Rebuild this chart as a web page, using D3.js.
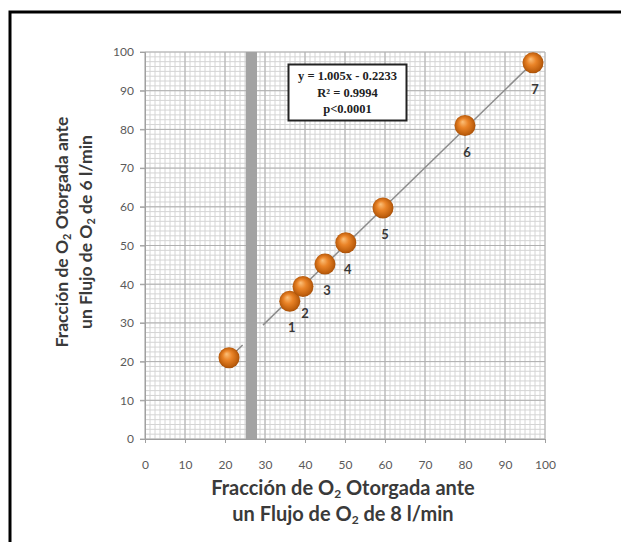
<!DOCTYPE html>
<html>
<head>
<meta charset="utf-8">
<script src="https://cdn.jsdelivr.net/npm/d3@7"></script>
<style>
  body { margin: 0; background: #fff; }
  svg { display: block; }
</style>
</head>
<body>
<script>
// data
var pointsX = [21, 36.2, 39.5, 45, 50.2, 59.5, 80, 97];
var pointsY = [21, 35.6, 39.4, 45.2, 50.7, 59.7, 81, 97.2];
var pointLabels = ["", "1", "2", "3", "4", "5", "6", "7"];
var ticks = [0, 10, 20, 30, 40, 50, 60, 70, 80, 90, 100];
var slope = 1.005, intercept = -0.2233;
var fitSegments = [[21, 24.4], [29.5, 98]];
var axisBreak = [25.2, 28];
var statLines = ["y = 1.005x - 0.2233", "R² = 0.9994", "p<0.0001"];

var W = 621, H = 542;
var svg = d3.select("body").append("svg")
    .attr("width", W)
    .attr("height", H);

var x = d3.scaleLinear().domain([0, 100]).range([145, 545]);
var y = d3.scaleLinear().domain([0, 100]).range([439, 52]);

// frame (top and left edges only are visible)
svg.append("path")
    .attr("d", "M10," + H + "V12H" + W)
    .attr("fill", "none")
    .attr("stroke", "#000")
    .attr("stroke-width", 3);

var defs = svg.append("defs");
var grad = defs.append("radialGradient")
    .attr("id", "ball")
    .attr("cx", "50%").attr("cy", "50%").attr("r", "55%")
    .attr("fx", "38%").attr("fy", "32%");
grad.append("stop").attr("offset", "0%").attr("stop-color", "#fbc07a");
grad.append("stop").attr("offset", "40%").attr("stop-color", "#ea8428");
grad.append("stop").attr("offset", "80%").attr("stop-color", "#c0600e");
grad.append("stop").attr("offset", "100%").attr("stop-color", "#9a4806");

// grid
var minor = d3.range(0, 100.001, 1.25);
var grid = svg.append("g");
grid.selectAll(".vmin").data(minor).enter().append("line")
    .attr("x1", function(d) { return x(d); })
    .attr("x2", function(d) { return x(d); })
    .attr("y1", y(100)).attr("y2", y(0))
    .attr("stroke", "#d4d4d4").attr("stroke-width", 1);
grid.selectAll(".hmin").data(minor).enter().append("line")
    .attr("y1", function(d) { return y(d); })
    .attr("y2", function(d) { return y(d); })
    .attr("x1", x(0)).attr("x2", x(100))
    .attr("stroke", "#d4d4d4").attr("stroke-width", 1);
grid.selectAll(".vmaj").data(ticks).enter().append("line")
    .attr("x1", function(d) { return x(d); })
    .attr("x2", function(d) { return x(d); })
    .attr("y1", y(100)).attr("y2", y(0))
    .attr("stroke", "#b0b0b0").attr("stroke-width", 1);
grid.selectAll(".hmaj").data(ticks).enter().append("line")
    .attr("y1", function(d) { return y(d); })
    .attr("y2", function(d) { return y(d); })
    .attr("x1", x(0) - 5).attr("x2", x(100))
    .attr("stroke", "#b0b0b0").attr("stroke-width", 1);

// axes
var xAxis = svg.append("g")
    .attr("transform", "translate(0," + y(0) + ")")
    .call(d3.axisBottom(x).tickValues(ticks).tickSize(4).tickPadding(17));
var yAxis = svg.append("g")
    .attr("transform", "translate(" + x(0) + ",0)")
    .call(d3.axisLeft(y).tickValues(ticks).tickSize(5).tickPadding(6));
[xAxis, yAxis].forEach(function(a) {
    a.select(".domain").attr("stroke", "#a0a0a0");
    a.selectAll(".tick line").attr("stroke", "#a0a0a0");
    a.selectAll("text")
        .attr("fill", "#5a5a5a")
        .style("font-family", "Lato, 'Open Sans', sans-serif")
        .style("font-size", "12px");
});

// axis break bar
svg.append("rect")
    .attr("x", x(axisBreak[0]))
    .attr("width", x(axisBreak[1]) - x(axisBreak[0]))
    .attr("y", y(100))
    .attr("height", y(0) - y(100))
    .attr("fill", "#a3a3a3");

// fitted line
svg.selectAll(".fit").data(fitSegments).enter().append("line")
    .attr("x1", function(d) { return x(d[0]); })
    .attr("y1", function(d) { return y(slope * d[0] + intercept); })
    .attr("x2", function(d) { return x(d[1]); })
    .attr("y2", function(d) { return y(slope * d[1] + intercept); })
    .attr("stroke", "#8c8c8c")
    .attr("stroke-width", 1.5);

// points
var pts = pointsX.map(function(v, i) {
    return { x: v, y: pointsY[i], label: pointLabels[i] };
});
svg.selectAll(".pt").data(pts).enter().append("circle")
    .attr("cx", function(d) { return x(d.x); })
    .attr("cy", function(d) { return y(d.y); })
    .attr("r", 10.5)
    .attr("fill", "url(#ball)");
svg.selectAll(".lbl").data(pts).enter().append("text")
    .attr("x", function(d) { return x(d.x) + 2; })
    .attr("y", function(d) { return y(d.y) + 31; })
    .attr("text-anchor", "middle")
    .attr("fill", "#383838")
    .style("font-family", "Lato, 'Open Sans', sans-serif")
    .style("font-weight", "bold")
    .style("font-size", "13px")
    .text(function(d) { return d.label; });

// stats box
var box = svg.append("g");
box.append("rect")
    .attr("x", 288.5).attr("y", 64.5)
    .attr("width", 118).attr("height", 56)
    .attr("fill", "#fff")
    .attr("stroke", "#222")
    .attr("stroke-width", 2);
box.selectAll("text").data(statLines).enter().append("text")
    .attr("x", 347.5)
    .attr("y", function(d, i) { return 80 + i * 16.5; })
    .attr("text-anchor", "middle")
    .attr("fill", "#222")
    .style("font-family", "'Liberation Serif', 'DejaVu Serif', serif")
    .style("font-weight", "bold")
    .style("font-size", "12.5px")
    .text(function(d) { return d; });

// axis titles
function title(g, parts, size) {
    var t = g.append("text")
        .attr("text-anchor", "middle")
        .attr("fill", "#3a3a3a")
        .style("font-family", "Lato, 'Open Sans', sans-serif")
        .style("font-weight", "bold")
        .style("font-size", size + "px");
    parts.forEach(function(p) {
        var s = t.append("tspan").text(p[0]);
        if (p[1]) s.attr("baseline-shift", "-25%").style("font-size", Math.round(size * 0.6) + "px");
    });
    return t;
}
var xt = svg.append("g");
title(xt, [["Fracción de O"], ["2", true], [" Otorgada ante"]], 20)
    .attr("x", 343).attr("y", 495);
title(xt, [["un Flujo de O"], ["2", true], [" de 8 l/min"]], 20)
    .attr("x", 343).attr("y", 521);

var yt = svg.append("g").attr("transform", "translate(68,232) rotate(-90)");
title(yt, [["Fracción de O"], ["2", true], [" Otorgada ante"]], 17.5)
    .attr("x", 0).attr("y", 0);
title(yt, [["un Flujo de  O"], ["2", true], [" de 6 l/min"]], 17.5)
    .attr("x", 0).attr("y", 24);
</script>
</body>
</html>
